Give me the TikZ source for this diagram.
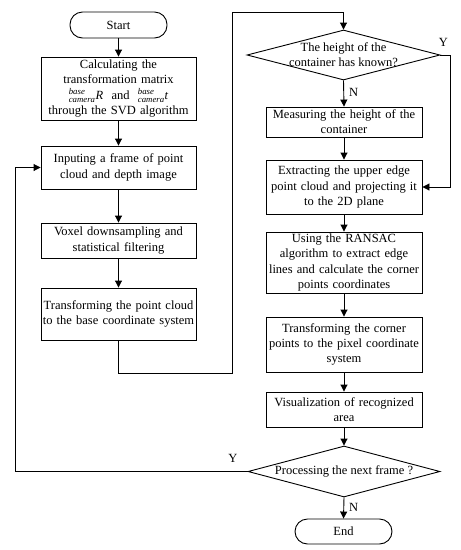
\documentclass[tikz,border=0pt]{standalone}
\usepackage{amsmath}
\usepackage{fontspec}
\setmainfont{Liberation Serif}
\usetikzlibrary{shapes.geometric,arrows.meta,calc}
\newcommand{\lsc}[1]{\ensuremath{{}^{\textit{base}}_{\textit{camera}}\textit{#1}}}
\begin{document}
\begin{tikzpicture}[x=1pt,y=-1pt,
  every node/.style={font=\fontsize{12.5}{15.3}\selectfont},
  proc/.style={draw,line width=0.9pt,align=center,inner sep=1pt,minimum width=155pt,text width=153pt},
  term/.style={draw,line width=0.9pt,rounded corners=12.5pt,minimum width=97pt,minimum height=26pt,inner sep=0pt},
  dia/.style={draw,line width=0.9pt,diamond,aspect=3.8,inner sep=0pt,minimum width=193pt,minimum height=50pt},
  txt/.style={align=center,inner sep=0pt},
  flow/.style={line width=0.9pt,-{Triangle[length=7pt,width=7pt]}},
  line/.style={line width=0.9pt}]
\useasboundingbox (0,0) rectangle (461,550);
% left column
\node[term] (start) at (118.5,25) {Start};
\node[proc,minimum height=63pt] (b1) at (118.5,88.5) {Calculating the\\transformation matrix\\\lsc{R} \ and \ \lsc{t}\\through the SVD algorithm};
\node[proc,minimum height=43pt] (b2) at (118.5,167.5) {Inputing a frame of point\\cloud and depth image};
\node[proc,minimum height=35pt] (b3) at (118.5,240.5) {Voxel downsampling and\\statistical filtering};
\node[proc,minimum height=52pt] (b4) at (118.5,314) {Transforming the point cloud\\to the base coordinate system};
% right column
\node[dia] (d1) at (343.5,55) {};
\node[txt] (d1t) at (343.5,55) {The height of the\\container has known?};
\node[proc,minimum width=156pt,minimum height=30pt] (r1) at (344,122) {Measuring the height of the\\container};
\node[proc,minimum width=156pt,minimum height=54pt] (r2) at (344,187) {Extracting the upper edge\\point cloud and projecting it\\to the 2D plane};
\node[proc,minimum width=156pt,minimum height=61pt] (r3) at (344,262.5) {Using the RANSAC\\algorithm to extract edge\\lines and calculate the corner\\points coordinates};
\node[proc,minimum width=156pt,minimum height=55pt] (r4) at (344,344.5) {Transforming the corner\\points to the pixel coordinate\\system};
\node[proc,minimum width=156pt,minimum height=35pt] (r5) at (344,409.5) {Visualization of recognized\\area};
\node[dia,minimum width=192pt,minimum height=51pt] (d2) at (344,471.5) {};
\node[txt] (d2t) at (344,471.5) {Processing the next frame ?};
\node[term,minimum height=25pt] (end) at (343.5,531.5) {End};
% coordinates
\coordinate (c1) at (232,373);
\coordinate (c2) at (232,12);
\coordinate (c3) at (450,55);
\coordinate (c4) at (15,471.5);
% connectors
\draw[flow] (start) -- (b1);
\draw[flow] (b1) -- (b2);
\draw[flow] (b2) -- (b3);
\draw[flow] (b3) -- (b4);
\draw[flow] (b4.south) |- (c1) -- (c2) -| (d1.north);
\draw[flow] (d1.south) -- node[pos=0.45,right=5pt,inner sep=0pt] (n1) {N} (r1.north);
\draw[flow] (d1.east) -- (c3) |- (r2.east);
\node[inner sep=0pt] (y1) at (443.5,42) {Y};
\draw[flow] (r1) -- (r2);
\draw[flow] (r2) -- (r3);
\draw[flow] (r3) -- (r4);
\draw[flow] (r4) -- (r5);
\draw[flow] (r5) -- (d2.north);
\draw[flow] (d2.south) -- node[pos=0.45,right=5pt,inner sep=0pt] (n2) {N} (end.north);
\draw[flow] (d2.west) -- (c4) |- (b2.west);
\node[inner sep=0pt] (y2) at (233,458) {Y};
\end{tikzpicture}
\end{document}
